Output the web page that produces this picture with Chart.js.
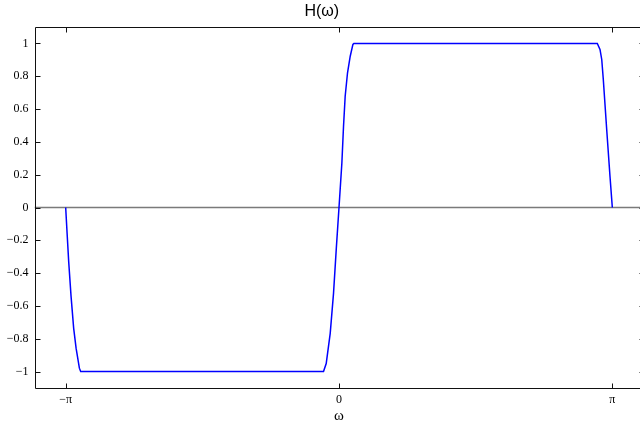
<!DOCTYPE html>
<html>
<head>
<meta charset="utf-8">
<script src="https://cdn.jsdelivr.net/npm/chart.js@4/dist/chart.umd.min.js"></script>
<style>
  html, body { margin: 0; padding: 0; background: #fff; overflow: hidden; }
  #wrap { width: 660px; height: 428px; }
</style>
</head>
<body>
<div id="wrap"><canvas id="c" width="660" height="428"></canvas></div>
<script>
// Frequency response of a Hilbert transformer, sampled along ω
const omega = [-3.1416, -3.125, -3.107, -3.080, -3.050, -3.022, -2.984, -2.969,
               -0.178, -0.147, -0.101, -0.063, -0.032, 0, 0.033, 0.052, 0.071, 0.098, 0.129, 0.160, 0.171,
               2.969, 3.000, 3.020, 3.038, 3.077, 3.115, 3.1416];
const H     = [0, -0.16, -0.33, -0.54, -0.735, -0.857, -0.979, -1,
               -1, -0.951, -0.767, -0.523, -0.258, 0, 0.271, 0.495, 0.678, 0.821, 0.922, 0.994, 1,
               1, 0.963, 0.902, 0.780, 0.475, 0.189, 0];

// Horizontal reference line at zero
const zeroLineX = [-3.5, 3.5];
const zeroLineY = [0, 0];

// Axis ticks
const xTickValues = [-Math.PI, 0, Math.PI];
const xTickLabels = ['\u2212\u03c0', '0', '\u03c0'];
const yTickValues = [-1, -0.8, -0.6, -0.4, -0.2, 0, 0.2, 0.4, 0.6, 0.8, 1];
const yTickLabels = ['\u22121', '\u22120.8', '\u22120.6', '\u22120.4', '\u22120.2', '0', '0.2', '0.4', '0.6', '0.8', '1'];

const curve = omega.map((w, i) => ({ x: w, y: H[i] }));
const zeroLine = zeroLineX.map((w, i) => ({ x: w, y: zeroLineY[i] }));

// Draws the surrounding box and inward-pointing tick marks on all four sides
const boxTicks = {
  id: 'boxTicks',
  afterDatasetsDraw(chart) {
    const { ctx, chartArea: a, scales: { x, y } } = chart;
    const L = Math.round(a.left) + 0.5, R = Math.round(a.right) + 0.5;
    const T = Math.round(a.top) + 0.5, B = Math.round(a.bottom) + 0.5;
    const len = 5;
    ctx.save();
    ctx.strokeStyle = '#111';
    ctx.lineWidth = 1;
    ctx.beginPath();
    ctx.rect(L, T, R - L, B - T);
    xTickValues.forEach(v => {
      const px = Math.round(x.getPixelForValue(v)) + 0.5;
      ctx.moveTo(px, B); ctx.lineTo(px, B - len);
      ctx.moveTo(px, T); ctx.lineTo(px, T + len);
    });
    yTickValues.forEach(v => {
      const py = Math.round(y.getPixelForValue(v)) + 0.5;
      ctx.moveTo(L, py); ctx.lineTo(L + len, py);
      ctx.moveTo(R, py); ctx.lineTo(R - len, py);
    });
    ctx.stroke();
    ctx.restore();
  }
};

new Chart(document.getElementById('c'), {
  type: 'line',
  data: {
    datasets: [
      { data: curve, borderColor: '#0000ff', borderWidth: 1.5, pointRadius: 0, tension: 0, fill: false },
      { data: zeroLine, borderColor: '#7a7a7a', borderWidth: 1.5, pointRadius: 0, tension: 0, fill: false }
    ]
  },
  options: {
    responsive: false,
    animation: false,
    events: [],
    layout: { padding: { left: 0, right: 16.5, top: 0, bottom: 0 } },
    plugins: {
      legend: { display: false },
      tooltip: { enabled: false },
      title: {
        display: true,
        text: 'H(\u03c9)',
        color: '#000',
        font: { family: 'Liberation Sans', size: 16, weight: 'normal', lineHeight: 1.2 },
        padding: { top: 2.4, bottom: 5.4 }
      }
    },
    scales: {
      x: {
        type: 'linear',
        min: -3.5,
        max: 3.5,
        afterBuildTicks: s => { s.ticks = xTickValues.map(v => ({ value: v })); },
        afterFit: s => { s.height = 40; },
        grid: { display: false, drawTicks: false },
        border: { display: false },
        ticks: {
          color: '#000',
          padding: 5,
          maxRotation: 0,
          autoSkip: false,
          font: { family: 'Liberation Serif', size: 12 },
          callback: (v, i) => xTickLabels[i]
        },
        title: {
          display: true,
          text: '\u03c9',
          color: '#000',
          font: { family: 'Liberation Serif', size: 15 },
          padding: { top: 0, bottom: 3 }
        }
      },
      y: {
        type: 'linear',
        min: -1.1,
        max: 1.1,
        afterBuildTicks: s => { s.ticks = yTickValues.map(v => ({ value: v })); },
        afterFit: s => { s.width = 34.5; },
        grid: { display: false, drawTicks: false },
        border: { display: false },
        ticks: {
          color: '#000',
          padding: 6,
          autoSkip: false,
          font: { family: 'Liberation Serif', size: 12 },
          callback: (v, i) => yTickLabels[i]
        }
      }
    }
  },
  plugins: [boxTicks]
});
</script>
</body>
</html>
